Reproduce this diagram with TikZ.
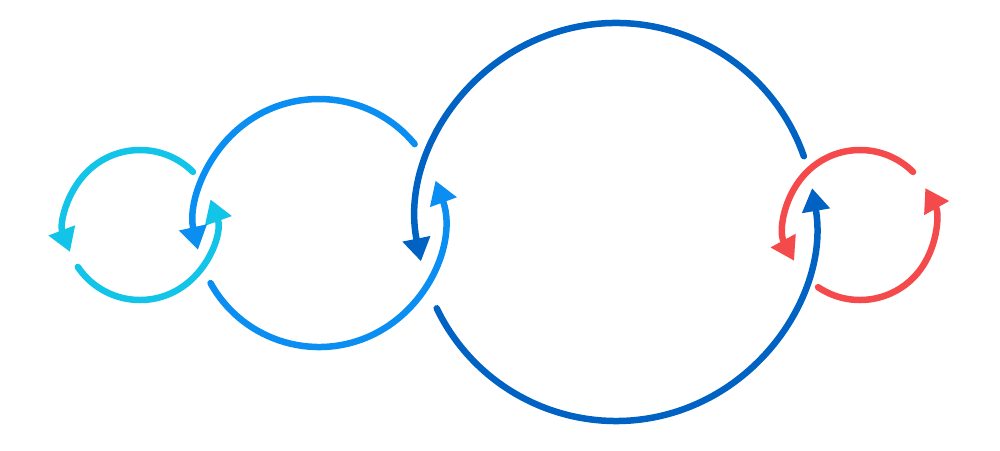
\documentclass[tikz,border=0pt]{standalone}
\usetikzlibrary{arrows.meta}
\definecolor{cyanc}{HTML}{12C4E8}
\definecolor{lightb}{HTML}{0A8EF2}
\definecolor{darkb}{HTML}{0062C2}
\definecolor{redc}{HTML}{F54A4C}
\begin{document}
\begin{tikzpicture}[x=1pt,y=1pt,
  looparc/.style={line width=6.5pt, line cap=round, -{Triangle[width=27pt,length=23pt]}}]
\useasboundingbox (0,0) rectangle (1000,450);
% circle 1 (cyan)
\draw[looparc, cyanc] (140,225) ++(45:75) arc[start angle=45, end angle=201, radius=75];
\draw[looparc, cyanc] (140,225) ++(214:75) arc[start angle=214, end angle=380, radius=75];
% circle 2 (light blue)
\draw[looparc, lightb] (319,227) ++(39.5:124) arc[start angle=39.5, end angle=192.5, radius=124];
\draw[looparc, lightb] (319,227) ++(209:124) arc[start angle=209, end angle=380, radius=124];
% circle 3 (dark blue)
\draw[looparc, darkb] (616,228) ++(19.3:199) arc[start angle=19.3, end angle=191.4, radius=199];
\draw[looparc, darkb] (616,228) ++(205.7:199) arc[start angle=205.7, end angle=369.8, radius=199];
% circle 4 (red)
\draw[looparc, redc] (860,225) ++(45:75) arc[start angle=45, end angle=208.5, radius=75];
\draw[looparc, redc] (860,225) ++(236:75) arc[start angle=236, end angle=389.5, radius=75];
\end{tikzpicture}
\end{document}
